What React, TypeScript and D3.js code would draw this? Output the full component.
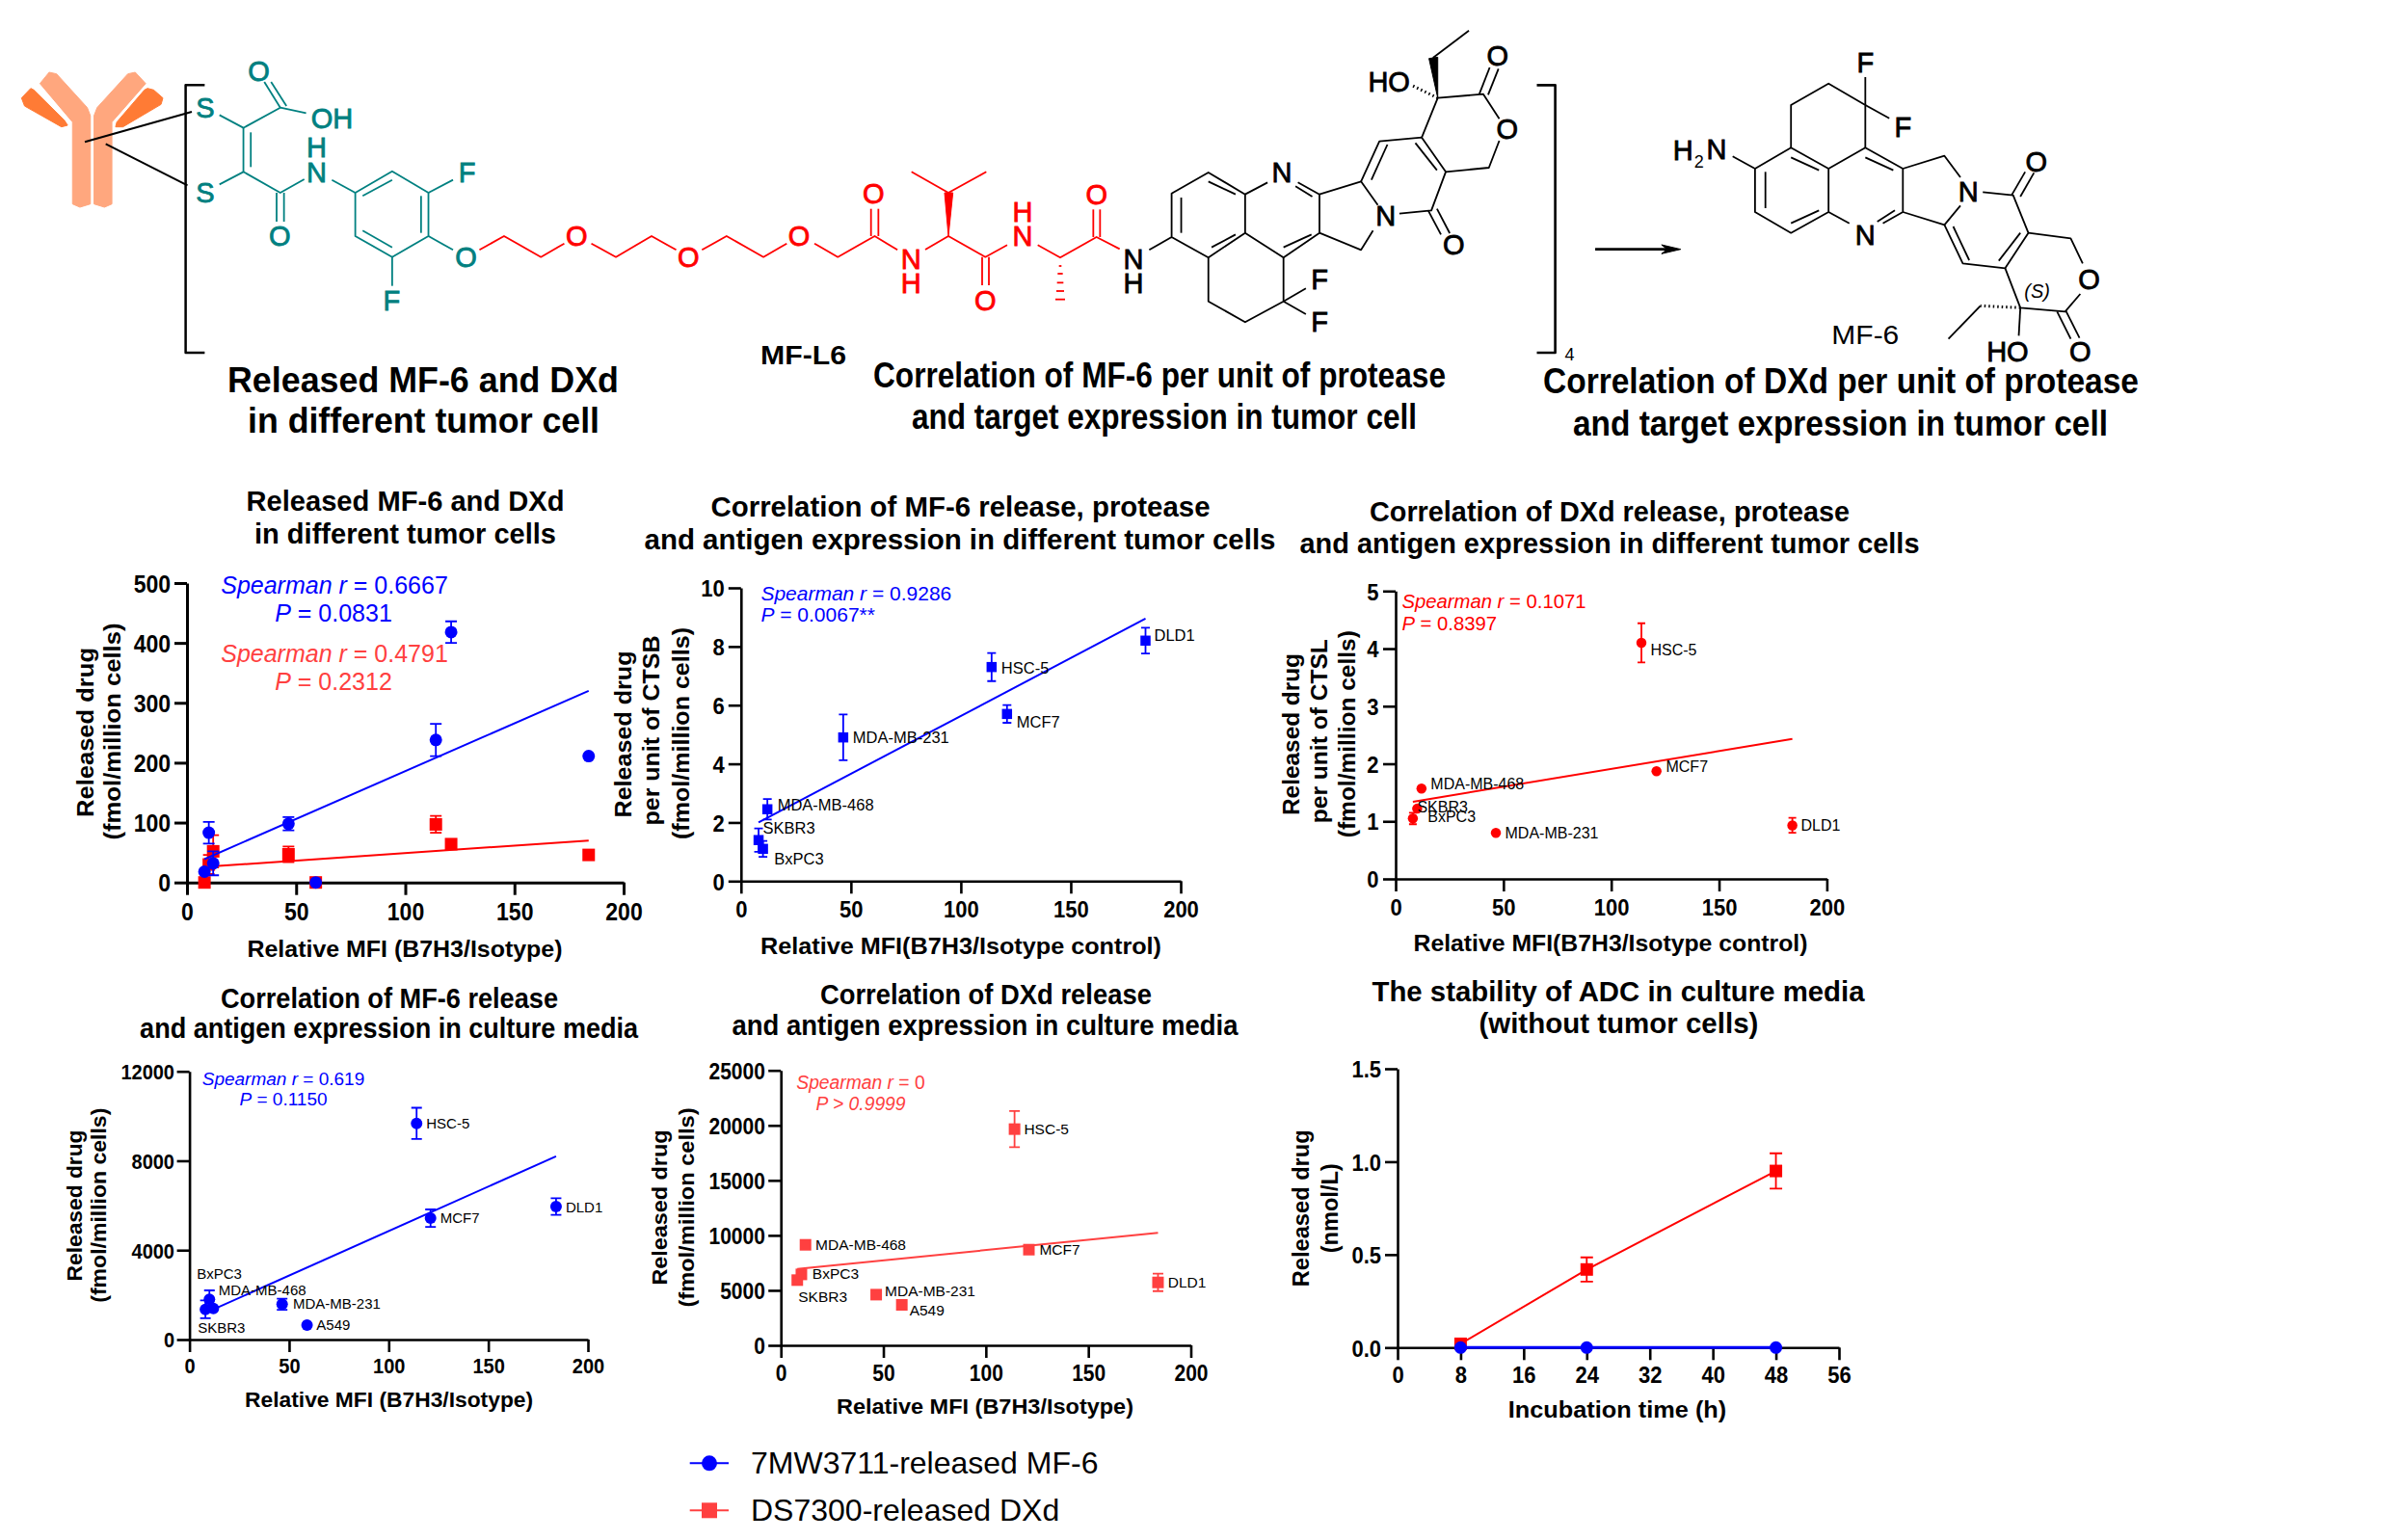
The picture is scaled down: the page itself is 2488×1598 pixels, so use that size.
import React, { useEffect, useRef } from "react";
import * as d3 from "d3";

// ---------- DATA ----------
const cellLines = ["SKBR3", "BxPC3", "MDA-MB-468", "MDA-MB-231", "A549", "HSC-5", "MCF7", "DLD1"];
const relativeMFI = [8, 10, 12, 46.5, 59, 114, 121, 184];

const releasedMF6 = [18, 83, 32, 98, 0, 238, 418, 211];
const releasedMF6Err = [0, 18, 20, 11, 0, 27, 18, 0];
const releasedDXd = [0, 30, 52, 47, 0, 97, 64, 46];
const releasedDXdErr = [0, 16, 27, 13, 0, 14, 0, 0];
const releasedMF6Fit = [[8, 39], [184, 320]];
const releasedDXdFit = [[8, 26], [184, 70]];

const ctsbMF6 = [1.4, 1.1, 2.45, 4.9, null, 7.3, 5.7, 8.2];
const ctsbMF6Err = [0.4, 0.27, 0.35, 0.78, 0, 0.48, 0.3, 0.44];
const ctsbFit = [[8, 2.0], [184, 8.95]];

const ctslDXd = [1.05, 1.22, 1.57, 0.8, null, 4.1, 1.87, 0.93];
const ctslDXdErr = [0.1, 0, 0, 0, 0, 0.34, 0, 0.13];
const ctslFit = [[8, 1.34], [184, 2.43]];

const mediaMF6 = [1350, 1800, 1390, 1580, 650, 9670, 5430, 5950];
const mediaMF6Err = [400, 400, 0, 250, 0, 700, 390, 370];
const mediaMF6Fit = [[8, 1190], [184, 8200]];

const mediaDXd = [5930, 6450, 9140, 4610, 3680, 19660, 8700, 5720];
const mediaDXdErr = [0, 0, 0, 0, 0, 1650, 0, 790];
const mediaDXdFit = [[8, 6950], [184, 10220]];

const stabilityHours = [8, 24, 48];
const stabilityDXd = [0.02, 0.42, 0.95];
const stabilityDXdErr = [0, 0.065, 0.095];
const stabilityMF6 = [0, 0, 0];

const mfiTicks = [0, 50, 100, 150, 200];
const hourTicks = [0, 8, 16, 24, 32, 40, 48, 56];

// ---------- STYLE ----------
const BLUE = "#0000FF";
const RED = "#FF0000";
const SOFT = "#FF4040";
const TEAL = "#008080";
const FONT = "'Liberation Sans', Arial, sans-serif";

type Series = {
  xs: number[]; ys: (number | null)[]; err: number[]; color: string; shape: "circle" | "square";
  size: number; cap: number; fit?: number[][]; connect?: boolean; lineW?: number;
};
type Panel = {
  x: [number, number]; y: [number, number]; xDom: [number, number]; yDom: [number, number];
  xTicks: number[]; yTicks: number[]; yFmt?: (d: number) => string; tick: number; xLab: number; yGap: number; axisW: number;
  title: [string, number, number, number][]; xLabel: [string, number, number, number];
  yLabels: [string, number, number, number][]; labelFont: number; axisFont: number;
  series: Series[]; labels?: (number[] | null)[];
  notes: { parts: [string, boolean][]; x: number; y: number; anchor: string; color: string; size: number }[];
};

const note = (a: string, b: string, c: string, x: number, y: number, anchor: string, color: string, size: number) => ({
  parts: [[a, true], [b, false], ...(c ? [[c, true]] : [])] as [string, boolean][], x, y, anchor, color, size,
});

const panels: Panel[] = [
  {
    x: [194, 647], y: [915.7, 605], xDom: [0, 200], yDom: [0, 500], xTicks: mfiTicks, yTicks: [0, 100, 200, 300, 400, 500],
    tick: 23, xLab: 39, yGap: 17, axisW: 3,
    title: [["Released MF-6 and DXd", 420.5, 530, 330], ["in different tumor cells", 420.5, 563.5, 313]],
    xLabel: ["Relative MFI (B7H3/Isotype)", 420, 993, 327],
    yLabels: [["Released drug", 97, 760, 176], ["(fmol/million cells)", 125, 759, 225]],
    labelFont: 24, axisFont: 24,
    series: [
      { xs: relativeMFI, ys: releasedDXd, err: releasedDXdErr, color: RED, shape: "square", size: 13, cap: 6, fit: releasedDXdFit },
      { xs: relativeMFI, ys: releasedMF6, err: releasedMF6Err, color: BLUE, shape: "circle", size: 13, cap: 6, fit: releasedMF6Fit },
    ],
    notes: [
      note("Spearman r", " = 0.6667", "", 347, 616, "middle", BLUE, 25),
      note("P", " = 0.0831", "", 346, 645, "middle", BLUE, 25),
      note("Spearman r", " = 0.4791", "", 347, 687, "middle", SOFT, 25),
      note("P", " = 0.2312", "", 346, 716, "middle", SOFT, 25),
    ],
  },
  {
    x: [768.8, 1225], y: [914.3, 610], xDom: [0, 200], yDom: [0, 10], xTicks: mfiTicks, yTicks: [0, 2, 4, 6, 8, 10],
    tick: 22, xLab: 37.4, yGap: 17, axisW: 2.6,
    title: [["Correlation of MF-6 release, protease", 996.5, 535.5, 518], ["and antigen expression in different tumor cells", 996, 569.5, 655]],
    xLabel: ["Relative MFI(B7H3/Isotype control)", 997, 990, 416],
    yLabels: [["Released drug", 655, 762, 173], ["per unit of CTSB", 684, 758, 197], ["(fmol/million cells)", 715, 761, 220]],
    labelFont: 16.5, axisFont: 24,
    series: [{ xs: relativeMFI, ys: ctsbMF6, err: ctsbMF6Err, color: BLUE, shape: "square", size: 10.5, cap: 4.5, fit: ctsbFit }],
    labels: [[4.5, -6.7], [11.7, 16], [10.5, 1], [10, 5.5], null, [10, 6.7], [10, 14], [9, 0]],
    notes: [
      note("Spearman r", " = 0.9286", "", 789.4, 622.7, "start", BLUE, 21),
      note("P", " = 0.0067**", "", 789.4, 645, "start", BLUE, 21),
    ],
  },
  {
    x: [1448, 1895.4], y: [912, 613.3], xDom: [0, 200], yDom: [0, 5], xTicks: mfiTicks, yTicks: [0, 1, 2, 3, 4, 5],
    tick: 22, xLab: 38, yGap: 17.4, axisW: 2.6,
    title: [["Correlation of DXd release, protease", 1670, 540.5, 498], ["and antigen expression in different tumor cells", 1670, 573.5, 643]],
    xLabel: ["Relative MFI(B7H3/Isotype control)", 1671, 986.7, 409],
    yLabels: [["Released drug", 1348, 762, 168], ["per unit of CTSL", 1377, 758.7, 191], ["(fmol/million cells)", 1406, 761.7, 215]],
    labelFont: 16, axisFont: 24,
    series: [{ xs: relativeMFI, ys: ctslDXd, err: ctslDXdErr, color: RED, shape: "circle", size: 10.5, cap: 4, fit: ctslFit }],
    labels: [[4.5, -6], [10.9, 14.3], [9.5, 1], [9.5, 5.8], null, [9.4, 13], [9.8, 0.4], [8.9, 5.3]],
    notes: [
      note("Spearman r", " = 0.1071", "", 1454.4, 630.7, "start", RED, 20.3),
      note("P", " = 0.8397", "", 1454.4, 654, "start", RED, 20.3),
    ],
  },
  {
    x: [196.6, 610], y: [1390, 1111.7], xDom: [0, 200], yDom: [0, 12000], xTicks: mfiTicks, yTicks: [0, 4000, 8000, 12000],
    tick: 20, xLab: 35, yGap: 15.6, axisW: 2.6,
    title: [["Correlation of  MF-6 release", 404, 1046, 350], ["and antigen expression  in culture media", 403.6, 1076.5, 517]],
    xLabel: ["Relative MFI (B7H3/Isotype)", 403.6, 1460, 299],
    yLabels: [["Released drug", 85, 1251, 157], ["(fmol/million cells)", 110, 1250.7, 202]],
    labelFont: 15, axisFont: 22,
    series: [{ xs: relativeMFI, ys: mediaMF6, err: mediaMF6Err, color: BLUE, shape: "circle", size: 12, cap: 5.5, fit: mediaMF6Fit }],
    labels: [[-8, 24], [-13, -21], [5.4, -14], [11.3, 4.6], [9.8, 5], [10, 5], [10, 5], [10, 5.7]],
    notes: [
      note("Spearman r", " = 0.619", "", 294, 1126, "middle", BLUE, 19),
      note("P", " = 0.1150", "", 294, 1147, "middle", BLUE, 19),
    ],
  },
  {
    x: [810.2, 1235.5], y: [1396, 1110.7], xDom: [0, 200], yDom: [0, 25000], xTicks: mfiTicks, yTicks: [0, 5000, 10000, 15000, 20000, 25000],
    tick: 21, xLab: 36.7, yGap: 16.3, axisW: 2.6,
    title: [["Correlation of DXd release", 1022.9, 1042, 344], ["and antigen expression in culture media", 1022, 1074, 525]],
    xLabel: ["Relative MFI (B7H3/Isotype)", 1022, 1467, 308],
    yLabels: [["Released drug", 692, 1253, 161], ["(fmol/million cells)", 720, 1253, 207]],
    labelFont: 15.5, axisFont: 22.5,
    series: [{ xs: relativeMFI, ys: mediaDXd, err: mediaDXdErr, color: SOFT, shape: "square", size: 12, cap: 5.5, fit: mediaDXdFit }],
    labels: [[1, 23], [11.4, 5], [10.4, 5], [9, 1.6], [8, 11], [9.8, 5], [10.9, 5.3], [10.3, 5.3]],
    notes: [
      note("Spearman r", " = 0", "", 893, 1130, "middle", SOFT, 19.3),
      note("P > 0.9999", "", "", 893, 1152, "middle", SOFT, 19.3),
    ],
  },
  {
    x: [1450, 1908], y: [1398.3, 1109], xDom: [0, 56], yDom: [0, 1.5], xTicks: hourTicks, yTicks: [0, 0.5, 1, 1.5], yFmt: d3.format(".1f"),
    tick: 22, xLab: 36.7, yGap: 17, axisW: 2.6,
    title: [["The stability of ADC in culture media", 1679, 1038.5, 511], ["(without tumor cells)", 1679.4, 1072, 290]],
    xLabel: ["Incubation time (h)", 1678, 1470.7, 226.5],
    yLabels: [["Released drug", 1358, 1253.8, 163], ["(nmol/L)", 1387.5, 1253.8, 93]],
    labelFont: 16, axisFont: 24,
    series: [
      { xs: stabilityHours, ys: stabilityDXd, err: stabilityDXdErr, color: RED, shape: "square", size: 13, cap: 6.5, connect: true },
      { xs: stabilityHours, ys: stabilityMF6, err: [0, 0, 0], color: BLUE, shape: "circle", size: 13, cap: 6, connect: true, lineW: 3 },
    ],
    notes: [],
  },
];

// ---------- CHEMICAL SKETCH (reference crop units, mapped to the page) ----------
type Map2 = (p: number[]) => number[];
const A: Map2 = ([x, y]) => [x / 1.568, 30 + y / 3];
const B: Map2 = ([x, y]) => [1000 + x / 1.206, 30 + y / 3];
const C: Map2 = ([x, y]) => [900 + x / 3, 160 + y / 3];

const sketchLines: { map: Map2; color: string; w: number; paths: number[][][] }[] = [
  { map: A, color: "#000", w: 2, paths: [[[138, 352], [312, 258]], [[172, 358], [305, 487]]] },
  { map: A, color: "#000", w: 2.5, paths: [[[333, 175], [302, 175], [302, 1008], [333, 1008]]] },
  {
    map: A, color: TEAL, w: 1.8, paths: [
      [[357, 268], [396, 308], [456, 245], [498, 262]], [[456, 245], [430, 165]], [[466, 240], [441, 165]],
      [[396, 308], [396, 445]], [[408, 322], [408, 430]], [[357, 484], [396, 445], [456, 510], [495, 468]],
      [[450, 510], [450, 600]], [[462, 510], [462, 600]], [[540, 470], [578, 510]],
      [[578, 510], [638, 443], [697, 510], [697, 645], [638, 710], [578, 645], [578, 510]],
      [[590, 520], [638, 470]], [[685, 520], [685, 635]], [[590, 628], [638, 680]],
      [[697, 510], [737, 470]], [[638, 710], [638, 800]], [[697, 645], [737, 688]],
    ],
  },
  {
    map: A, color: RED, w: 1.8, paths: [
      [[780, 688], [820, 645], [880, 710], [918, 668]], [[962, 668], [1002, 710], [1060, 645], [1100, 688]],
      [[1142, 688], [1182, 645], [1242, 710], [1280, 668]], [[1325, 668], [1363, 710], [1423, 645], [1460, 688]],
      [[1417, 645], [1417, 560]], [[1429, 645], [1429, 560]],
    ],
  },
  {
    map: C, color: RED, w: 1.8, paths: [
      [[180, 297], [252, 255], [367, 320], [435, 283]], [[252, 120], [137, 55]], [[252, 120], [370, 55]],
      [[357, 320], [357, 408]], [[378, 320], [378, 408]], [[530, 283], [600, 322], [713, 258], [785, 295]],
      [[703, 258], [703, 172]], [[724, 258], [724, 172]],
      [[596, 348], [604, 348]], [[592, 372], [608, 372]], [[590, 400], [610, 400]], [[588, 426], [612, 426]], [[585, 452], [615, 452]],
    ],
  },
  {
    map: B, color: "#000", w: 1.8, paths: [
      [[232, 688], [260, 648], [260, 512], [306, 447], [352, 515], [352, 635], [306, 712], [260, 648]],
      [[272, 635], [272, 525]], [[306, 475], [340, 515]], [[310, 680], [340, 640]],
      [[352, 515], [380, 478]], [[418, 478], [445, 515], [445, 635], [400, 712], [352, 635]],
      [[415, 490], [436, 522]], [[400, 680], [435, 640]],
      [[306, 712], [306, 848], [352, 913], [400, 848], [400, 712]], [[400, 848], [428, 808]], [[400, 848], [428, 888]],
      [[445, 515], [497, 475], [518, 548]], [[512, 628], [497, 688], [445, 635]],
      [[497, 475], [520, 350], [573, 338], [603, 445], [585, 565], [545, 575]],
      [[581, 565], [597, 640]], [[592, 560], [608, 636]], [[510, 470], [530, 360]], [[565, 355], [592, 440]],
      [[573, 338], [593, 215], [650, 203], [670, 280]], [[670, 348], [657, 432], [603, 445]],
      [[645, 203], [658, 120]], [[656, 205], [669, 124]], [[587, 90], [632, 5]],
      [[962, 397], [990, 435], [990, 570], [1035, 635], [1082, 570], [1082, 435], [1035, 370], [990, 435]],
      [[1003, 445], [1003, 558]], [[1035, 605], [1070, 565]], [[1035, 400], [1070, 440]],
      [[1082, 435], [1128, 370], [1175, 435], [1175, 570], [1150, 605]], [[1108, 605], [1082, 570]],
      [[1128, 400], [1163, 440]], [[1143, 600], [1165, 565]],
      [[1035, 370], [1035, 237], [1082, 170], [1128, 237], [1128, 370]], [[1128, 237], [1128, 150]], [[1128, 237], [1158, 278]],
      [[1175, 435], [1227, 395], [1247, 462]], [[1247, 550], [1227, 610], [1175, 570]],
      [[1227, 610], [1250, 730], [1303, 745], [1332, 635], [1313, 518], [1275, 508]],
      [[1311, 518], [1328, 445]], [[1322, 522], [1339, 448]], [[1238, 615], [1258, 720]], [[1295, 722], [1322, 635]],
      [[1332, 635], [1385, 652], [1400, 730]], [[1397, 825], [1378, 880], [1322, 868], [1303, 745]],
      [[1368, 880], [1385, 965]], [[1379, 878], [1396, 962]], [[1322, 868], [1320, 955]], [[1272, 862], [1232, 965]],
    ],
  },
  { map: B, color: "#000", w: 2.6, paths: [[[717, 175], [740, 175], [740, 1008], [717, 1008]], [[790, 686], [880, 686]]] },
];

const sketchHashes: { map: Map2; color: string; paths: number[][][] }[] = [
  { map: B, color: "#000", paths: [[[593, 215], [560, 175]], [[1322, 868], [1272, 862]]] },
];

const sketchFills: { map: Map2; color: string; pts: number[][] }[] = [
  { map: A, color: "#FFA77E", pts: [[80, 135], [65, 170], [118, 290], [118, 545], [130, 555], [147, 545], [147, 270], [142, 245], [92, 140]] },
  { map: A, color: "#FFA77E", pts: [[220, 135], [237, 170], [182, 290], [182, 545], [170, 555], [153, 545], [153, 270], [158, 245], [208, 140]] },
  { map: A, color: "#FF7B35", pts: [[50, 185], [35, 215], [40, 240], [100, 305], [110, 300], [105, 285], [55, 190]] },
  { map: A, color: "#FF7B35", pts: [[235, 190], [190, 290], [188, 305], [200, 305], [262, 235], [265, 215], [250, 190], [240, 185]] },
  { map: C, color: RED, pts: [[252, 255], [240, 120], [266, 120]] },
  { map: B, color: "#000", pts: [[593, 215], [582, 92], [593, 88]] },
  { map: B, color: "#000", pts: [[897, 686], [873, 672], [880, 686], [873, 700]] },
];

const sketchAtoms: { map: Map2; color: string; items: [string, number, number][] }[] = [
  { map: A, color: TEAL, items: [["S", 334, 245], ["S", 334, 510], ["O", 421, 130], ["OH", 540, 278], ["H", 515, 368], ["N", 515, 447], ["O", 455, 643], ["F", 760, 445], ["F", 637, 845], ["O", 758, 710]] },
  { map: A, color: RED, items: [["O", 938, 645], ["O", 1120, 710], ["O", 1300, 645], ["O", 1421, 513]] },
  { map: C, color: RED, items: [["N", 136, 325], ["H", 136, 402], ["O", 367, 455], ["H", 483, 178], ["N", 483, 255], ["O", 713, 125]] },
  { map: C, color: "#000", items: [["N", 828, 325], ["H", 828, 402]] },
  {
    map: B, color: "#000", items: [
      ["N", 398, 447], ["N", 528, 580], ["O", 613, 672], ["O", 680, 312], ["O", 668, 82], ["HO", 532, 163], ["F", 445, 780], ["F", 445, 912],
      ["H", 900, 378], ["N", 942, 375], ["N", 1128, 640], ["N", 1257, 505], ["F", 1128, 105], ["F", 1175, 305], ["O", 1342, 412], ["O", 1408, 778], ["O", 1397, 1005], ["HO", 1306, 1005],
    ],
  },
];

const pageTitles: [string, number, number, number][] = [
  ["Released MF-6 and DXd", 439, 406.7, 406],
  ["in different tumor cell", 439.5, 449, 365],
  ["Correlation of MF-6 per unit of protease", 1203, 401.7, 594],
  ["and target expression in tumor cell", 1208, 445, 524],
  ["Correlation of DXd per unit of protease", 1910, 408, 618],
  ["and target expression in tumor cell", 1909.5, 451.7, 555],
];

const legendEntries = [
  { label: "7MW3711-released MF-6", color: BLUE, shape: "circle", size: 16 },
  { label: "DS7300-released DXd", color: SOFT, shape: "square", size: 16 },
];

// ---------- DRAWING ----------
const marker = (shape: string, size: number) =>
  d3.symbol(shape === "circle" ? d3.symbolCircle : d3.symbolSquare, shape === "circle" ? (Math.PI * size * size) / 4 : size * size)() as string;

function Axes({ p, sx, sy }: any) {
  const gx = useRef<SVGGElement>(null);
  const gy = useRef<SVGGElement>(null);
  useEffect(() => {
    const style = (g: any) => {
      g.selectAll("path,line").attr("stroke", "#000").attr("stroke-width", p.axisW);
      g.selectAll("text").attr("font-family", FONT).attr("font-weight", 700).attr("font-size", p.tick).attr("fill", "#000");
      // the reference's tick digits are a little taller than their width: keep the width, raise the height
      g.selectAll("text").each(function (this: SVGTextElement) {
        const w = this.getComputedTextLength();
        d3.select(this).attr("font-size", p.tick * 1.1).attr("textLength", w).attr("lengthAdjust", "spacingAndGlyphs");
      });
    };
    const xa = d3.select(gx.current!).call(d3.axisBottom(sx).tickValues(p.xTicks).tickSize(13).tickSizeOuter(0) as any);
    style(xa);
    xa.selectAll("text").attr("y", p.xLab).attr("dy", 0);
    const ya = d3.select(gy.current!).call(
      d3.axisLeft(sy).tickValues(p.yTicks).tickSize(13).tickSizeOuter(0).tickPadding(p.yGap - 13).tickFormat((p.yFmt || d3.format("d")) as any) as any
    );
    style(ya);
    ya.selectAll("text").attr("dy", "0.36em");
  }, []);
  return (
    <>
      <g ref={gx} transform={`translate(0,${p.y[0]})`} />
      <g ref={gy} transform={`translate(${p.x[0]},0)`} />
    </>
  );
}

function Chart({ p }: { p: Panel }) {
  const sx = d3.scaleLinear().domain(p.xDom).range(p.x);
  const sy = d3.scaleLinear().domain(p.yDom).range(p.y);
  const ln = d3.line<number[]>().x((d) => sx(d[0])).y((d) => sy(d[1]));
  const txt = { fontFamily: FONT, fontWeight: 700, fill: "#000" };
  return (
    <g>
      {p.title.map(([t, x, y, w], i) => (
        <text key={i} x={x} y={y} textAnchor="middle" fontSize={29} textLength={w} lengthAdjust="spacingAndGlyphs" {...txt}>{t}</text>
      ))}
      <text x={p.xLabel[1]} y={p.xLabel[2]} textAnchor="middle" fontSize={p.axisFont} textLength={p.xLabel[3]} lengthAdjust="spacingAndGlyphs" {...txt}>{p.xLabel[0]}</text>
      {p.yLabels.map(([t, x, y, w], i) => (
        <text key={i} transform={`translate(${x},${y}) rotate(-90)`} textAnchor="middle" fontSize={p.axisFont} textLength={w} lengthAdjust="spacingAndGlyphs" {...txt}>{t}</text>
      ))}
      <Axes p={p} sx={sx} sy={sy} />
      {p.series.map((s, si) => {
        const pts = s.xs.map((x, i) => ({ x, y: s.ys[i], e: s.err[i] })).filter((d) => d.y !== null) as { x: number; y: number; e: number }[];
        return (
          <g key={si}>
            {s.fit && <path d={ln(s.fit) as string} fill="none" stroke={s.color} strokeWidth={2} />}
            {s.connect && <path d={ln(pts.map((d) => [d.x, d.y])) as string} fill="none" stroke={s.color} strokeWidth={s.lineW || 2} />}
            {pts.map((d, i) => (
              <g key={i}>
                {d.e > 0 && (
                  <path
                    d={`M${sx(d.x)},${sy(d.y - d.e)}V${sy(d.y + d.e)}M${sx(d.x) - s.cap},${sy(d.y + d.e)}h${2 * s.cap}M${sx(d.x) - s.cap},${sy(d.y - d.e)}h${2 * s.cap}`}
                    fill="none" stroke={s.color} strokeWidth={1.8}
                  />
                )}
                <path d={marker(s.shape, s.size)} transform={`translate(${sx(d.x)},${sy(d.y)})`} fill={s.color} />
              </g>
            ))}
          </g>
        );
      })}
      {p.labels && p.labels.map((o, i) => o && (
        <text key={i} x={sx(p.series[0].xs[i]) + o[0]} y={sy(p.series[0].ys[i] as number) + o[1]} fontFamily={FONT} fontSize={p.labelFont} fill="#000">{cellLines[i]}</text>
      ))}
      {p.notes.map((n, i) => (
        <text key={i} x={n.x} y={n.y} textAnchor={n.anchor as any} fontFamily={FONT} fontSize={n.size} fill={n.color}>
          {n.parts.map(([t, it], j) => <tspan key={j} fontStyle={it ? "italic" : "normal"}>{t}</tspan>)}
        </text>
      ))}
    </g>
  );
}

function Sketch() {
  const line = d3.line<number[]>();
  const [m6x, m6y] = B([1128, 952]);
  const [sx, sy] = B([920, 412]);
  const [fx, fy] = B([758, 1012]);
  const [tx, ty] = B([1343, 815]);
  const [mx, my] = A([1307, 1015]);
  return (
    <g>
      {sketchFills.map((f, i) => (
        <polygon key={i} points={f.pts.map((q) => f.map(q).join(",")).join(" ")} fill={f.color} stroke={f.color} strokeWidth={1} strokeLinejoin="round" />
      ))}
      {sketchLines.map((g, i) => (
        <g key={i} fill="none" stroke={g.color} strokeWidth={g.w} strokeLinejoin="round">
          {g.paths.map((q, j) => <path key={j} d={line(q.map(g.map)) as string} />)}
        </g>
      ))}
      {sketchHashes.map((g, i) => (
        <g key={i} fill="none" stroke={g.color} strokeWidth={3} strokeDasharray="1.5 3">
          {g.paths.map((q, j) => <path key={j} d={line(q.map(g.map)) as string} />)}
        </g>
      ))}
      {sketchAtoms.map((g, i) => (
        <g key={i} fontFamily={FONT} fontSize={29} textAnchor="middle" fill={g.color} stroke={g.color} strokeWidth={0.8}>
          {g.items.map(([t, x, y], j) => {
            const [px, py] = g.map([x, y]);
            return <text key={j} x={px} y={py} dy="0.36em">{t}</text>;
          })}
        </g>
      ))}
      <g fontFamily={FONT} textAnchor="middle" fill="#000">
        <text x={m6x} y={m6y} dy="0.36em" fontSize={28} textLength={70} lengthAdjust="spacingAndGlyphs">MF-6</text>
        <text x={sx} y={sy} dy="0.36em" fontSize={18}>2</text>
        <text x={fx} y={fy} dy="0.36em" fontSize={18}>4</text>
        <text x={tx} y={ty} dy="0.36em" fontSize={20} fontStyle="italic">(S)</text>
      </g>
      <text x={mx} y={my} dy="0.36em" textAnchor="middle" fontFamily={FONT} fontWeight={700} fontSize={27} textLength={89} lengthAdjust="spacingAndGlyphs">MF-L6</text>
      {pageTitles.map(([t, x, y, w], i) => (
        <text key={i} x={x} y={y} textAnchor="middle" fontFamily={FONT} fontWeight={700} fontSize={37} textLength={w} lengthAdjust="spacingAndGlyphs">{t}</text>
      ))}
    </g>
  );
}

function Legend() {
  return (
    <g>
      {legendEntries.map((e, i) => {
        const y = 1518.3 + i * 49;
        return (
          <g key={i}>
            <line x1={715.7} x2={756} y1={y} y2={y} stroke={e.color} strokeWidth={2} />
            <path d={marker(e.shape, e.size)} transform={`translate(736,${y})`} fill={e.color} />
            <text x={779} y={y + 11} fontFamily={FONT} fontSize={32} fill="#000">{e.label}</text>
          </g>
        );
      })}
    </g>
  );
}

export default function App() {
  return (
    <svg width={2488} height={1598} viewBox="0 0 2488 1598" style={{ position: "absolute", left: 0, top: 0, display: "block", background: "#fff" }}>
      <Sketch />
      {panels.map((p, i) => <Chart key={i} p={p} />)}
      <Legend />
    </svg>
  );
}
